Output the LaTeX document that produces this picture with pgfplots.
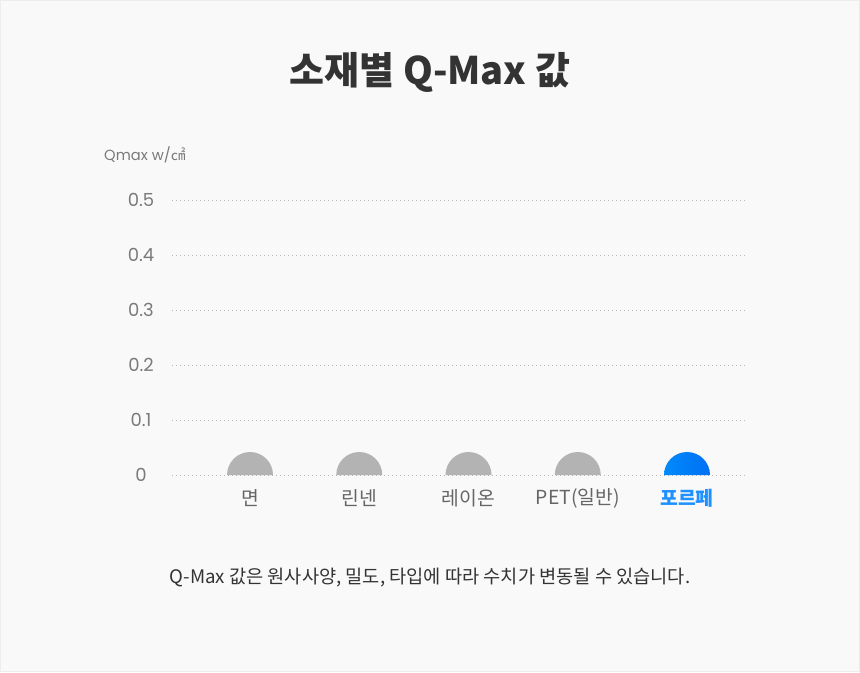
\documentclass[border=0pt]{standalone}
\usepackage{fontspec}
\usepackage{pgfplots}
\pgfplotsset{compat=1.18}
\setmainfont{Noto Sans CJK KR}
\newfontfamily\numfont{Poppins}
\newfontfamily\cjk{Noto Sans CJK KR}

\definecolor{bgc}{HTML}{F9F9F9}
\definecolor{edgec}{HTML}{EDEDED}
\definecolor{titlec}{HTML}{333333}
\definecolor{tickc}{HTML}{7A7A7A}
\definecolor{catc}{HTML}{666666}
\definecolor{gridc}{HTML}{B5B5B5}
\definecolor{semic}{HTML}{B3B3B3}
\definecolor{qblue}{HTML}{1E90FF}
\definecolor{qlight}{HTML}{0098FF}
\definecolor{qdark}{HTML}{0062F0}

% semicircle sitting on the data point (a bar that has only its rounded cap)
\pgfdeclareplotmark{semi}{%
  \pgfpathmoveto{\pgfqpoint{-\pgfplotmarksize}{0pt}}%
  \pgfpatharc{180}{0}{\pgfplotmarksize}%
  \pgfpathclose
  \pgfusepathqfill}
\pgfdeclareverticalshading{blueshade}{100bp}{color(0bp)=(qdark); color(100bp)=(qlight)}
\pgfdeclareplotmark{semiblue}{%
  \pgfpathmoveto{\pgfqpoint{-\pgfplotmarksize}{0pt}}%
  \pgfpatharc{180}{0}{\pgfplotmarksize}%
  \pgfpathclose
  \pgfshadepath{blueshade}{90}%
  \pgfusepath{}}

\begin{document}
\begin{tikzpicture}[x=0.75pt, y=-0.75pt]
\path[fill=bgc, draw=edgec, line width=0.75pt] (0.5,0.5) rectangle (859.5,671.5);

\begin{axis}[
    at={(129pt,-356.25pt)}, anchor=south west,
    scale only axis,
    width=430.5pt, height=206.25pt,
    xmin=-0.714, xmax=4.54,
    ymin=0, ymax=0.5,
    clip=false,
    axis line style={draw=none},
    major tick length=0pt,
    ytick={0,0.1,0.2,0.3,0.4,0.5},
    yticklabels={0,0.1,0.2,0.3,0.4,0.5},
    yticklabel style={font=\numfont\fontsize{13.5}{14}\selectfont, text=tickc, anchor=center, xshift=-23.25pt},
    xtick={0,1,2,3,4},
    xticklabels={면,린넨,레이온,PET(일반),{\color{qblue}\bfseries 포르페}},
    xticklabel style={font=\fontsize{14.5}{16}\selectfont, text=catc, anchor=center, yshift=-17.25pt},
    ymajorgrids,
    grid style={gridc, line width=0.75pt, dash pattern=on 0.75pt off 2.25pt},
    ylabel={{\numfont Qmax w/}{\cjk ㎠}},
    ylabel style={rotate=-90, anchor=west, at={(axis description cs:-0.1185,1.1636)},
      font=\fontsize{11}{12}\selectfont, text=tickc, inner sep=0pt},
    title={소재별 Q-Max 값},
    title style={at={(axis description cs:0.4495,1.433)}, anchor=center,
      font=\bfseries\fontsize{28.5}{31}\selectfont, text=titlec},
  ]
  \addplot[only marks, mark=semi, mark size=17.25pt, color=semic]
    coordinates {(0,0) (1,0) (2,0) (3,0)};
  \addplot[only marks, mark=semiblue, mark size=17.25pt, color=qlight]
    coordinates {(4,0)};
\end{axis}

\node[text=titlec, font=\fontsize{14}{16}\selectfont] at (430,578)
  {Q-Max 값은 원사사양, 밀도, 타입에 따라 수치가 변동될 수 있습니다.};
\end{tikzpicture}
\end{document}
